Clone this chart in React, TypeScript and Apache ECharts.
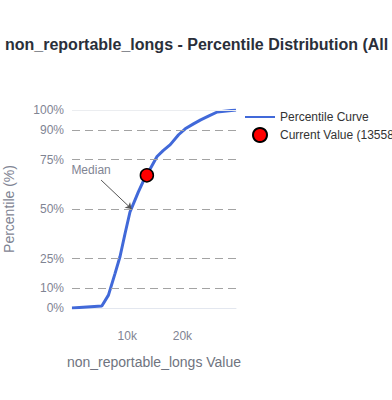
import React, { useEffect, useRef } from "react";
import * as echarts from "echarts";

const values = [0, 5400, 6600, 7800, 8700, 9600, 10500, 11400, 12000, 12900, 14400, 15400, 16500, 17800, 19300, 20500, 22000, 23300, 24800, 26300, 29700];
const percentiles = [0, 1, 6.5, 17.5, 26, 37.5, 48.5, 54.5, 58.5, 64, 71.5, 76.5, 79.5, 82.5, 87.5, 90.5, 93, 95, 97, 99, 100];
const yTickValues = [0, 10, 25, 50, 75, 90, 100];
const dashedLevels = [10, 25, 50, 75, 90];
const currentValue = 13558;
const currentPercentile = 67;
const medianValue = 10800;
const medianPercentile = 50;
const medianLabelAt = [3450, 69.7];
const medianArrowFrom = [5270, 64.6];

const FONT = "'Liberation Sans', Arial, sans-serif";

export default function App() {
  const ref = useRef<HTMLDivElement>(null);
  useEffect(() => {
    const chart = echarts.init(ref.current!, null, { renderer: "svg" });
    chart.setOption({
      animation: false,
      textStyle: { fontFamily: FONT },
      title: {
        text: "non_reportable_longs - Percentile Distribution (All Time)",
        left: 0,
        top: 31,
        textStyle: { fontSize: 16, fontWeight: "bold", color: "#2a2f3a", fontFamily: FONT },
      },
      legend: {
        left: 239,
        top: 106,
        orient: "vertical",
        itemGap: 4,
        itemWidth: 30,
        itemHeight: 14,
        textStyle: { fontSize: 12, color: "#333", fontFamily: FONT },
        data: [
          { name: "Percentile Curve", itemStyle: { opacity: 0 } },
          { name: "Current Value (13558)" },
        ],
      },
      grid: { left: 72, right: 156, top: 110, bottom: 92 },
      xAxis: {
        type: "value",
        min: 0,
        max: 29700,
        interval: 10000,
        name: "non_reportable_longs Value",
        nameLocation: "middle",
        nameGap: 47,
        nameTextStyle: { fontSize: 14, color: "#6f7480", fontFamily: FONT },
        axisLine: { show: true, lineStyle: { color: "#e3e7ef" } },
        axisTick: { show: false },
        splitLine: { show: false },
        axisLabel: {
          showMinLabel: false,
          showMaxLabel: false,
          fontSize: 12,
          color: "#7f8493",
          margin: 22,
          formatter: (v: number) => v / 1000 + "k",
        },
      },
      yAxis: {
        type: "value",
        min: 0,
        max: 100,
        interval: 5,
        name: "Percentile (%)",
        nameLocation: "middle",
        nameGap: 56,
        nameTextStyle: { fontSize: 14, color: "#7f8493", fontFamily: FONT },
        axisLine: { show: false },
        axisTick: { show: false },
        splitLine: { show: false },
        axisLabel: {
          fontSize: 12,
          color: "#7f8493",
          margin: 8,
          formatter: (v: number) => (yTickValues.indexOf(v) >= 0 ? v + "%" : ""),
        },
      },
      series: [
        {
          name: "Percentile Curve",
          type: "line",
          data: values.map((v, i) => [v, percentiles[i]]),
          symbol: "none",
          lineStyle: { color: "#4169d9", width: 3 },
          itemStyle: { color: "#4169d9" },
          z: 3,
          markLine: {
            silent: true,
            symbol: "none",
            label: { show: false },
            data: [
              ...dashedLevels.map((l) => ({
                yAxis: l,
                lineStyle: { type: [8, 5], color: "#a3a3a3", width: 1 },
              })),
              { yAxis: 100, lineStyle: { type: "solid", color: "#ebedf0", width: 1 } },
              [
                { coord: medianArrowFrom, symbol: "none", lineStyle: { type: "solid", color: "#555", width: 1 } },
                { coord: [medianValue, medianPercentile], symbol: "arrow", symbolSize: 6 },
              ],
            ],
          },
          markPoint: {
            silent: true,
            data: [
              {
                coord: medianLabelAt,
                symbol: "circle",
                symbolSize: 0,
                label: {
                  show: true,
                  position: "inside",
                  formatter: "Median",
                  fontSize: 12,
                  color: "#7f8493",
                  fontFamily: FONT,
                },
              },
            ],
          },
        },
        {
          name: "Current Value (13558)",
          type: "scatter",
          data: [[currentValue, currentPercentile]],
          symbol: "circle",
          symbolSize: 13,
          itemStyle: { color: "#ff0000", borderColor: "#000", borderWidth: 1.5, opacity: 1 },
          z: 5,
        },
      ],
    });
    return () => chart.dispose();
  }, []);
  return (
    <div
      ref={ref}
      style={{ position: "fixed", left: 0, top: 0, width: 392, height: 400, background: "#fff" }}
    />
  );
}
